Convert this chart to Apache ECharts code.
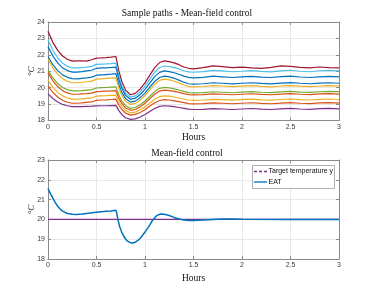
<!DOCTYPE html>
<html><head><meta charset="utf-8">
<script src="https://cdn.jsdelivr.net/npm/echarts@6/dist/echarts.min.js"></script>
<style>html,body{margin:0;padding:0;background:#fff}#c{width:374px;height:291px}</style>
</head><body><div id="c"></div>
<script>
// ---------- data ----------
const hours = [0,0.05,0.1,0.15,0.2,0.25,0.3,0.35,0.4,0.45,0.5,0.55,0.6,0.65,0.7,0.71,0.73,0.76,0.8,0.85,0.9,0.95,1,1.05,1.1,1.15,1.2,1.25,1.3,1.35,1.4,1.45,1.5,1.6,1.7,1.8,1.9,2,2.1,2.2,2.3,2.4,2.5,2.6,2.7,2.8,2.9,3];

const pathRed = [23.43,22.76,22.27,21.93,21.73,21.62,21.63,21.64,21.62,21.70,21.80,21.81,21.83,21.86,21.90,21.83,21.02,20.39,19.85,19.57,19.65,19.92,20.29,20.76,21.22,21.53,21.63,21.59,21.51,21.40,21.26,21.18,21.15,21.22,21.33,21.28,21.22,21.25,21.21,21.18,21.24,21.33,21.30,21.24,21.20,21.26,21.22,21.20];
const pathLightBlue = [22.92,22.28,21.82,21.49,21.30,21.20,21.20,21.23,21.25,21.30,21.42,21.44,21.45,21.47,21.50,21.44,20.71,20.15,19.67,19.42,19.50,19.74,20.09,20.52,20.94,21.23,21.32,21.29,21.22,21.14,21.03,20.96,20.94,20.98,21.05,21.02,20.97,21.00,21.04,20.99,20.96,21.02,21.06,21.00,20.97,21.03,21.05,21.02];
const pathBlueA = [22.50,21.93,21.51,21.21,21.04,20.95,20.95,20.98,21.02,21.06,21.18,21.20,21.21,21.23,21.25,21.19,20.50,19.98,19.53,19.29,19.36,19.58,19.90,20.29,20.67,20.93,21.02,20.98,20.91,20.82,20.70,20.63,20.60,20.63,20.70,20.66,20.62,20.66,20.69,20.64,20.62,20.67,20.70,20.65,20.62,20.66,20.69,20.66];
const pathBlueB = [21.90,21.40,21.04,20.78,20.63,20.55,20.54,20.57,20.60,20.64,20.76,20.78,20.80,20.82,20.85,20.80,20.19,19.73,19.33,19.12,19.18,19.39,19.67,20.04,20.38,20.62,20.70,20.66,20.57,20.46,20.33,20.24,20.21,20.24,20.30,20.27,20.23,20.27,20.30,20.26,20.23,20.28,20.31,20.27,20.24,20.28,20.30,20.27];
const pathYellowA = [21.75,21.21,20.82,20.55,20.39,20.30,20.30,20.33,20.36,20.40,20.52,20.54,20.56,20.58,20.60,20.55,19.98,19.55,19.17,18.98,19.04,19.24,19.52,19.87,20.21,20.44,20.52,20.48,20.39,20.29,20.16,20.08,20.05,20.07,20.12,20.10,20.06,20.09,20.12,20.08,20.05,20.10,20.13,20.09,20.06,20.10,20.13,20.10];
const pathGreen = [21.05,20.59,20.25,20.01,19.88,19.80,19.80,19.82,19.85,19.88,19.98,20.00,20.01,20.03,20.05,20.01,19.55,19.20,18.90,18.74,18.79,18.96,19.19,19.48,19.76,19.96,20.02,19.99,19.93,19.86,19.77,19.70,19.68,19.70,19.75,19.72,19.69,19.73,19.76,19.72,19.70,19.74,19.77,19.73,19.71,19.75,19.78,19.76];
const pathOrangeA = [20.90,20.42,20.07,19.82,19.68,19.60,19.60,19.62,19.64,19.67,19.76,19.77,19.79,19.80,19.82,19.78,19.36,19.04,18.76,18.62,18.67,18.83,19.05,19.33,19.60,19.79,19.85,19.82,19.77,19.71,19.64,19.58,19.56,19.58,19.62,19.60,19.57,19.60,19.63,19.59,19.57,19.61,19.64,19.60,19.58,19.62,19.64,19.61];
const pathYellowB = [20.45,20.02,19.71,19.50,19.37,19.30,19.30,19.32,19.35,19.38,19.48,19.50,19.51,19.53,19.55,19.52,19.14,18.85,18.60,18.47,18.51,18.65,18.83,19.07,19.29,19.45,19.50,19.48,19.43,19.37,19.31,19.25,19.23,19.25,19.29,19.27,19.24,19.27,19.30,19.26,19.24,19.28,19.31,19.27,19.25,19.29,19.31,19.28];
const pathOrangeB = [20.10,19.71,19.43,19.23,19.11,19.05,19.05,19.07,19.10,19.13,19.23,19.25,19.26,19.28,19.30,19.27,18.93,18.67,18.45,18.33,18.37,18.49,18.66,18.88,19.08,19.22,19.27,19.25,19.20,19.15,19.09,19.03,19.01,19.03,19.07,19.05,19.02,19.05,19.08,19.04,19.02,19.06,19.09,19.05,19.03,19.07,19.09,19.06];
const pathPurple = [19.62,19.34,19.13,18.98,18.90,18.85,18.84,18.85,18.86,18.87,18.89,18.90,18.90,18.91,18.92,18.89,18.60,18.37,18.17,18.07,18.10,18.21,18.36,18.55,18.73,18.86,18.90,18.88,18.84,18.79,18.74,18.69,18.67,18.68,18.72,18.70,18.67,18.70,18.73,18.69,18.67,18.71,18.74,18.70,18.68,18.72,18.74,18.71];

const eatHours = [0,0.025,0.05,0.075,0.1,0.125,0.15,0.2,0.25,0.3,0.35,0.4,0.45,0.5,0.55,0.6,0.65,0.7,0.705,0.71,0.72,0.74,0.76,0.78,0.8,0.82,0.84,0.86,0.88,0.9,0.93,0.96,1,1.04,1.08,1.12,1.16,1.2,1.25,1.3,1.35,1.4,1.45,1.5,1.6,1.7,1.8,1.9,2,2.5,3];
const eat = [21.56,21.30,21.07,20.85,20.66,20.52,20.42,20.30,20.26,20.25,20.27,20.30,20.33,20.36,20.39,20.41,20.43,20.46,20.45,20.30,20.00,19.62,19.36,19.16,19.01,18.90,18.82,18.80,18.81,18.85,18.95,19.10,19.36,19.65,19.97,20.19,20.27,20.26,20.20,20.10,20.02,19.97,19.95,19.95,19.97,20.00,20.02,20.02,20.01,20.00,20.00];
const targetHours = [0,3];
const target = [20,20];

const xTickLabels = ['0','0.5','1','1.5','2','2.5','3'];
const yTickLabelsTop = ['18','19','20','21','22','23','24'];
const yTickLabelsBottom = ['18','19','20','21','22','23'];
const titles = ['Sample paths - Mean-field control','Mean-field control'];
const legendNames = ['Target temperature y','EAT'];

// ---------- styles ----------
const paths = [
  [pathRed,'#A2142F'],[pathLightBlue,'#4DBEEE'],[pathBlueA,'#0072BD'],[pathBlueB,'#0072BD'],
  [pathYellowA,'#EDB120'],[pathGreen,'#77AC30'],[pathOrangeA,'#D95319'],[pathYellowB,'#EDB120'],
  [pathOrangeB,'#D95319'],[pathPurple,'#7E2F8E']
];
const AX = '#8a8a8a', GRID = '#e8e8e8', LAB = '#3a3a3a';
const serif = '"Liberation Serif","Times New Roman",serif';
const sans = '"Liberation Sans",Arial,sans-serif';

function xAx(grid, pos, showLabel, nameGap) {
  return {
    type:'value', gridIndex:grid, position:pos, min:0, max:3, interval:0.5,
    axisLine:{show:true,onZero:false,lineStyle:{color:AX,width:1}},
    axisTick:{show:true,inside:true,length:3,lineStyle:{color:AX}},
    axisLabel:{show:showLabel,margin:3,fontSize:7,color:LAB,fontFamily:sans,
      formatter:v=>xTickLabels[Math.round(v/0.5)]},
    splitLine:{show:pos==='bottom',lineStyle:{color:GRID,width:1}},
    name: showLabel ? 'Hours' : '', nameLocation:'middle', nameGap:nameGap, nameMoveOverlap:false,
    nameTextStyle:{fontFamily:serif,fontSize:9.5,color:'#111'}
  };
}
function yAx(grid, pos, showLabel, min, max, labels) {
  return {
    type:'value', gridIndex:grid, position:pos, min:min, max:max, interval:1,
    axisLine:{show:true,onZero:false,lineStyle:{color:AX,width:1}},
    axisTick:{show:true,inside:true,length:3,lineStyle:{color:AX}},
    axisLabel:{show:showLabel,margin:3,fontSize:7,color:LAB,fontFamily:sans,
      formatter:v=>labels[Math.round(v-min)]},
    splitLine:{show:pos==='left',lineStyle:{color:GRID,width:1}},
    name: showLabel ? '°C' : '', nameLocation:'middle', nameRotate:90, nameGap:12, nameMoveOverlap:false,
    nameTextStyle:{fontFamily:serif,fontStyle:'italic',fontSize:9,color:'#111'}
  };
}

const series = paths.map(([arr,col]) => ({
  type:'line', xAxisIndex:0, yAxisIndex:0, showSymbol:false, symbol:'none',
  data: hours.map((h,i)=>[h,arr[i]]), lineStyle:{color:col,width:1.2}, itemStyle:{color:col},
  silent:true, animation:false
}));
series.push({
  name:legendNames[0], type:'line', xAxisIndex:2, yAxisIndex:2, symbol:'none',
  data: targetHours.map((h,i)=>[h,target[i]]), lineStyle:{color:'#7E2F8E',width:1.4}, itemStyle:{color:'#7E2F8E'}, animation:false
});
series.push({
  name:legendNames[1], type:'line', xAxisIndex:2, yAxisIndex:2, symbol:'none',
  data: eatHours.map((h,i)=>[h,eat[i]]), lineStyle:{color:'#0072BD',width:1.5}, itemStyle:{color:'#0072BD'}, animation:false
});

// legend drawn as a MATLAB-style box
const LX = 252, LY = 165, LW = 82, LH = 23;
const graphic = [
  {type:'rect', shape:{x:LX+0.5,y:LY+0.5,width:LW,height:LH}, style:{fill:'#fff',stroke:'#9a9a9a',lineWidth:0.8}, z:100},
  {type:'line', shape:{x1:LX+2,y1:LY+6.5,x2:LX+15,y2:LY+6.5}, style:{stroke:'#7E2F8E',lineWidth:1.3,lineDash:[3,2]}, z:101},
  {type:'text', x:LX+16.5, y:LY+6.5, style:{text:legendNames[0],fill:'#111',font:'7px '+sans,textVerticalAlign:'middle',verticalAlign:'middle'}, z:101},
  {type:'line', shape:{x1:LX+2,y1:LY+17,x2:LX+15,y2:LY+17}, style:{stroke:'#0072BD',lineWidth:1.3}, z:101},
  {type:'text', x:LX+16.5, y:LY+17, style:{text:legendNames[1],fill:'#111',font:'7px '+sans,textVerticalAlign:'middle',verticalAlign:'middle'}, z:101}
];

const chart = echarts.init(document.getElementById('c'), null, {renderer:'canvas'});
chart.setOption({
  backgroundColor:'#fff',
  animation:false,
  title:[
    {text:titles[0], left:'center', top:8, padding:0, textStyle:{fontFamily:serif,fontSize:9.5,fontWeight:'normal',color:'#111'}},
    {text:titles[1], left:'center', top:148, padding:0, textStyle:{fontFamily:serif,fontSize:9.5,fontWeight:'normal',color:'#111'}}
  ],
  grid:[
    {left:48, top:22, width:291, height:98.5, containLabel:false},
    {left:48, top:160, width:291, height:99, containLabel:false}
  ],
  xAxis:[ xAx(0,'bottom',true,12), xAx(0,'top',false,0), xAx(1,'bottom',true,14), xAx(1,'top',false,0) ],
  yAxis:[ yAx(0,'left',true,18,24,yTickLabelsTop), yAx(0,'right',false,18,24,yTickLabelsTop),
          yAx(1,'left',true,18,23,yTickLabelsBottom), yAx(1,'right',false,18,23,yTickLabelsBottom) ],
  graphic:graphic,
  series:series
});
</script></body></html>
